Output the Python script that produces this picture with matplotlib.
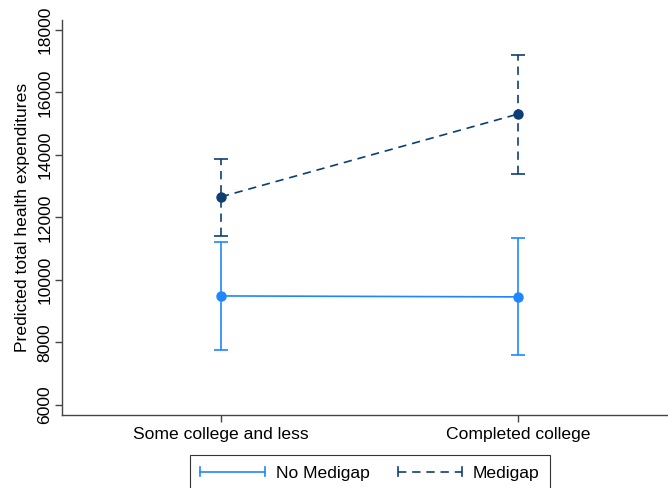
import matplotlib
matplotlib.use("Agg")
import matplotlib.pyplot as plt
from matplotlib.lines import Line2D
from matplotlib.legend_handler import HandlerBase

plt.rcParams['font.family'] = ['Liberation Sans', 'DejaVu Sans']

categories = ["Some college and less", "Completed college"]
series = ["No Medigap", "Medigap"]
no_medigap = [9490, 9460]
no_medigap_lo = [7760, 7600]
no_medigap_hi = [11220, 11350]
medigap = [12660, 15310]
medigap_lo = [11420, 13400]
medigap_hi = [13880, 17200]
yticks = [6000, 8000, 10000, 12000, 14000, 16000, 18000]

c_no = "#1f86ff"
c_me = "#0e3f74"
FS = 12.6

fig = plt.figure(figsize=(6.68, 4.88), dpi=100)
ax = fig.add_axes([62/668, 1-415/488, 606/668, 395/488])

x = [1, 2]
for vals, lo, hi, col, ls in [(no_medigap, no_medigap_lo, no_medigap_hi, c_no, '-'),
                              (medigap, medigap_lo, medigap_hi, c_me, (0, (5, 3.5)))]:
    yerr = [[v - l for v, l in zip(vals, lo)], [h - v for v, h in zip(vals, hi)]]
    eb = ax.errorbar(x, vals, yerr=yerr, color=col, lw=1.2, capsize=5, capthick=1.2,
                     marker='o', ms=6.5, linestyle=ls, elinewidth=1.2)
    for b in eb[2]:
        b.set_linestyle(ls)

ax.set_xlim(0.465, 2.505)
ax.set_ylim(5680, 18320)
ax.set_xticks(x)
ax.set_xticklabels(categories, fontsize=FS)
ax.set_yticks(yticks)
ax.set_yticklabels([str(t) for t in yticks], rotation=90, va='center', fontsize=FS)
ax.set_ylabel("Predicted total health expenditures", fontsize=FS, labelpad=5)
for s in ['top', 'right']:
    ax.spines[s].set_visible(False)
for s in ['left', 'bottom']:
    ax.spines[s].set_color('#444444')
    ax.spines[s].set_linewidth(1.0)
ax.tick_params(direction='out', length=5, width=1, color='#444444', pad=2)
ax.tick_params(axis='x', pad=4)


class CapHandler(HandlerBase):
    def create_artists(self, legend, orig, xd, yd, w, h, fontsize, trans):
        col = orig.get_color()
        y = h / 2 - yd
        arts = [Line2D([-xd, -xd + w], [y, y], color=col, lw=1.2, linestyle=orig._ls_spec)]
        for xx in (-xd, -xd + w):
            arts.append(Line2D([xx, xx], [y - 3.5, y + 3.5], color=col, lw=1.2))
        for a in arts:
            a.set_transform(trans)
        return arts


h1 = Line2D([], [], color=c_no)
h1._ls_spec = '-'
h2 = Line2D([], [], color=c_me)
h2._ls_spec = (0, (5, 3.5))
leg = fig.legend([h1, h2], series, loc='upper center', ncol=2,
                 bbox_to_anchor=(370/668, 1-455/488), fontsize=FS,
                 handler_map={Line2D: CapHandler()}, handlelength=3.7,
                 frameon=True, fancybox=False, edgecolor='black', borderpad=0.6,
                 borderaxespad=0, columnspacing=1.6, handletextpad=0.6)
leg.get_frame().set_linewidth(0.8)

fig.savefig("out.png", dpi=100)
